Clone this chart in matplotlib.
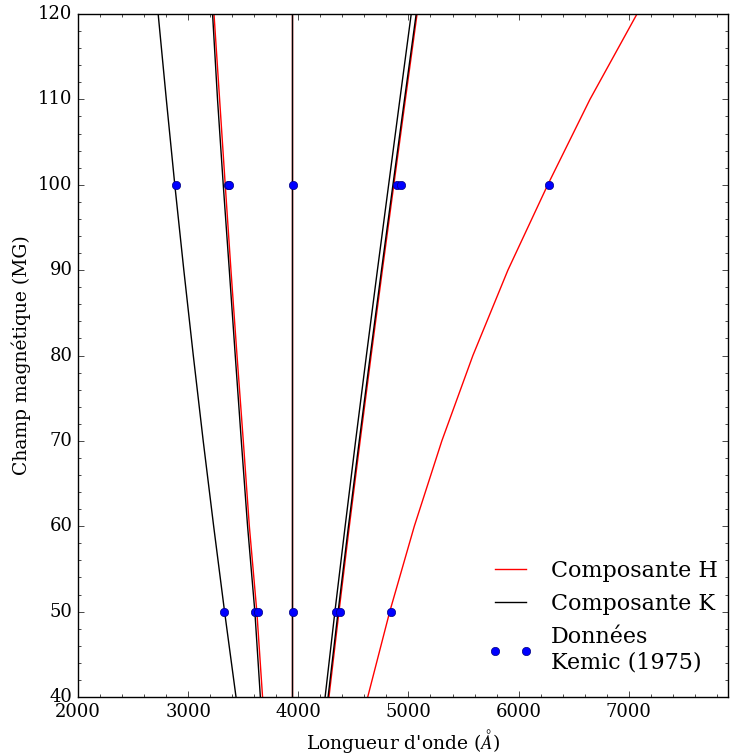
import numpy as np
import matplotlib.pyplot as plt

plt.style.use('classic')
plt.rcParams['font.family'] = 'serif'
plt.rcParams['font.serif'] = ['DejaVu Serif']

# champ magnetique (MG) ou les courbes ont ete lues
champ = [40, 50, 60, 70, 80, 90, 100, 110, 120]

# composante H (rouge), longueurs d'onde en Angstrom
h_gauche = [3675, 3623, 3555, 3500, 3443, 3388, 3336, 3285, 3234]
h_centre = [3943, 3943, 3943, 3943, 3943, 3943, 3943, 3943, 3943]
h_droite = [4278, 4369, 4463, 4561, 4661, 4763, 4867, 4972, 5078]
h_loin = [4630, 4830, 5053, 5303, 5585, 5903, 6265, 6648, 7075]

# composante K (noir)
k_gauche1 = [3434, 3330, 3231, 3136, 3046, 2960, 2878, 2801, 2727]
k_gauche2 = [3655, 3605, 3539, 3482, 3427, 3373, 3318, 3266, 3221]
k_centre = [3943, 3943, 3943, 3943, 3943, 3943, 3943, 3943, 3943]
k_droite1 = [4243, 4332, 4425, 4520, 4618, 4718, 4820, 4922, 5025]
k_droite2 = [4270, 4361, 4455, 4553, 4653, 4755, 4859, 4964, 5070]

# donnees de Kemic (1975)
kemic_lambda = [2888, 3358, 3370, 3955, 4897, 4930, 6275,
                3327, 3603, 3634, 3952, 4343, 4382, 4843]
kemic_champ = [100, 100, 100, 100, 100, 100, 100,
               50, 50, 50, 50, 50, 50, 50]

fig = plt.figure(figsize=(7.3, 7.54), dpi=100)
ax = fig.add_axes([0.107, 0.0756, 0.890, 0.9058])

for i, courbe in enumerate([h_gauche, h_centre, h_droite, h_loin]):
    ax.plot(courbe, champ, color='red', lw=1.0,
            label='Composante H' if i == 0 else None)
for i, courbe in enumerate([k_gauche1, k_gauche2, k_centre, k_droite1, k_droite2]):
    ax.plot(courbe, champ, color='black', lw=1.0,
            label='Composante K' if i == 0 else None)

ax.plot(kemic_lambda, kemic_champ, 'o', color='blue', mec='#000080', mew=0.5,
        ms=6, label='Données\nKemic (1975)')

ax.set_xlim(2000, 7900)
ax.set_ylim(40, 120)
ax.set_xticks([2000, 3000, 4000, 5000, 6000, 7000])
ax.minorticks_on()
ax.tick_params(labelsize=13)
ax.set_xlabel("Longueur d'onde ($\\AA$)", fontsize=13.5)
ax.set_ylabel('Champ magnétique (MG)', fontsize=13.5)

ax.legend(loc='lower right', frameon=False, numpoints=2, fontsize=16,
          handlelength=2.0, borderaxespad=0, bbox_to_anchor=(0.998, 0.021))

fig.savefig('out.png', dpi=100)
